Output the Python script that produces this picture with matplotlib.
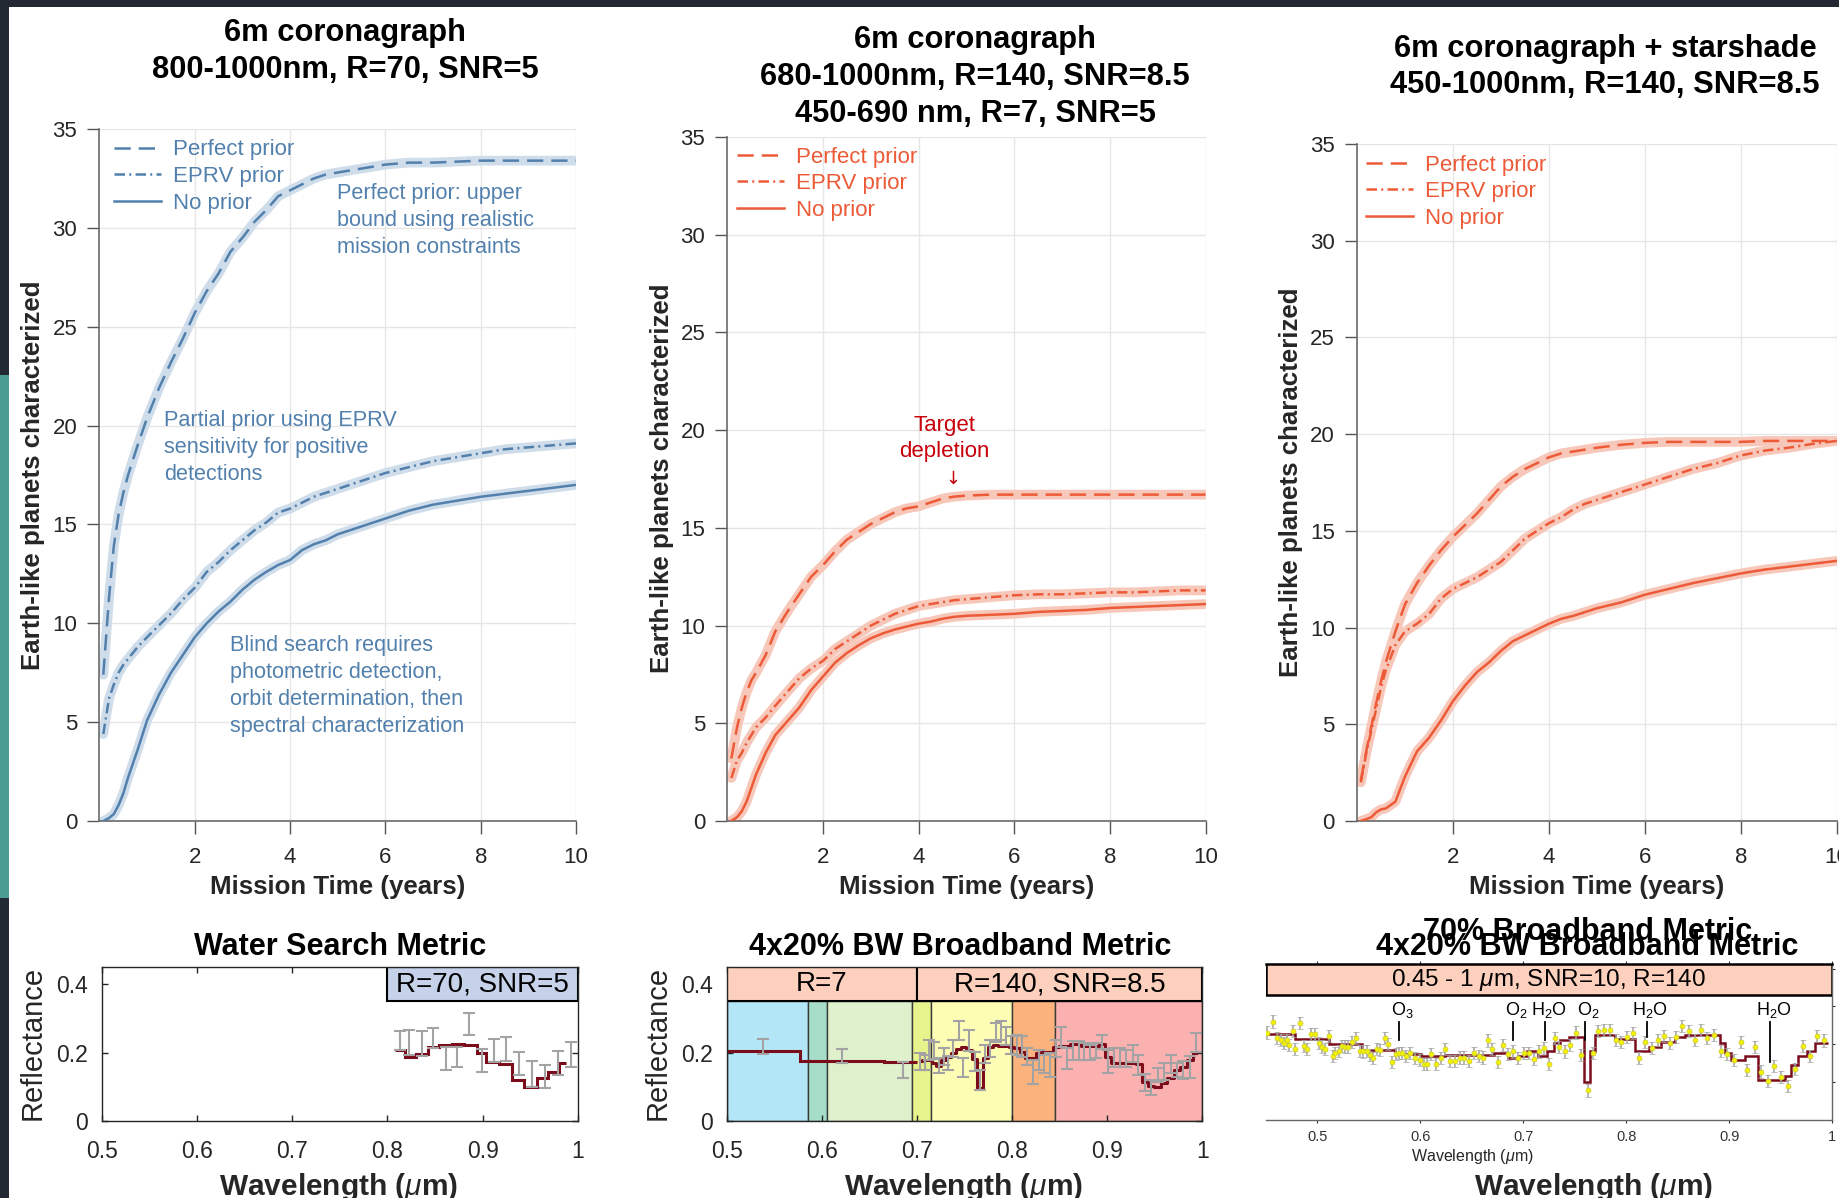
import matplotlib.pyplot as plt
from matplotlib.patches import Rectangle

plt.rcParams['font.family'] = ['Liberation Sans', 'DejaVu Sans']
plt.rcParams['mathtext.fontset'] = 'custom'
plt.rcParams['mathtext.rm'] = 'Liberation Sans'
plt.rcParams['mathtext.it'] = 'Liberation Sans:italic'
plt.rcParams['mathtext.bf'] = 'Liberation Sans:bold'

# ---------------- yield curves (planets characterized vs mission time) ----------------
years = [0.08, 0.2, 0.3, 0.4, 0.5, 0.6, 0.8, 1.0, 1.25, 1.5, 1.75, 2.0, 2.25, 2.5, 2.75,
         3.0, 3.25, 3.5, 3.75, 4.0, 4.25, 4.5, 4.75, 5.0, 5.5, 6.0, 6.5, 7.0, 7.5, 8.0,
         8.5, 9.0, 9.5, 10.0]

# 6m coronagraph, 800-1000nm, R=70
coro_perfect = [7.4, 11.3, 13.9, 15.5, 16.6, 17.5, 19.0, 20.4, 21.9, 23.2, 24.4, 25.7, 26.8, 27.7,
                28.8, 29.5, 30.3, 30.9, 31.6, 31.9, 32.2, 32.5, 32.7, 32.8, 33.0, 33.2, 33.3, 33.3,
                33.35, 33.4, 33.4, 33.4, 33.4, 33.4]
coro_eprv = [4.4, 6.2, 6.9, 7.5, 7.9, 8.2, 8.8, 9.3, 9.9, 10.5, 11.2, 11.8, 12.6, 13.1, 13.7,
             14.2, 14.7, 15.1, 15.6, 15.8, 16.1, 16.4, 16.6, 16.8, 17.2, 17.6, 17.9, 18.2, 18.4,
             18.6, 18.8, 18.9, 19.0, 19.1]
coro_none = [0.0, 0.15, 0.35, 0.8, 1.4, 2.2, 3.6, 5.1, 6.4, 7.5, 8.4, 9.3, 10.0, 10.6, 11.1,
             11.7, 12.2, 12.6, 12.95, 13.2, 13.7, 14.0, 14.2, 14.5, 14.9, 15.3, 15.7, 16.0, 16.2,
             16.4, 16.55, 16.7, 16.85, 17.0]

# 6m coronagraph, 680-1000nm R=140 + 450-690nm R=7
wide_perfect = [3.2, 4.8, 5.8, 6.6, 7.2, 7.6, 8.5, 9.7, 10.7, 11.6, 12.5, 13.1, 13.8, 14.4, 14.8,
                15.2, 15.5, 15.8, 16.0, 16.1, 16.3, 16.5, 16.6, 16.65, 16.7, 16.7, 16.7, 16.7,
                16.7, 16.7, 16.7, 16.7, 16.7, 16.7]
wide_eprv = [2.2, 3.1, 3.5, 4.0, 4.4, 4.8, 5.3, 5.9, 6.6, 7.3, 7.8, 8.2, 8.8, 9.2, 9.6, 10.0,
             10.3, 10.6, 10.8, 11.0, 11.1, 11.2, 11.3, 11.35, 11.45, 11.55, 11.6, 11.6, 11.65,
             11.7, 11.7, 11.75, 11.8, 11.8]
wide_none = [0.0, 0.2, 0.5, 1.0, 1.7, 2.4, 3.5, 4.4, 5.1, 5.8, 6.7, 7.4, 8.1, 8.6, 9.0, 9.35,
             9.6, 9.8, 9.95, 10.1, 10.2, 10.35, 10.45, 10.5, 10.55, 10.6, 10.7, 10.75, 10.8,
             10.9, 10.95, 11.0, 11.05, 11.1]

# 6m coronagraph + starshade, 450-1000nm R=140
ss_perfect = [2.1, 3.7, 4.9, 6.1, 7.2, 8.2, 9.8, 11.2, 12.3, 13.2, 14.0, 14.7, 15.3, 15.9, 16.6,
              17.3, 17.8, 18.2, 18.5, 18.8, 19.0, 19.1, 19.2, 19.3, 19.45, 19.55, 19.6, 19.6,
              19.6, 19.6, 19.65, 19.65, 19.65, 19.65]
ss_eprv = [2.0, 3.6, 4.7, 5.8, 6.9, 7.8, 9.1, 9.8, 10.2, 10.7, 11.5, 12.0, 12.3, 12.6, 13.0,
           13.4, 14.0, 14.6, 15.0, 15.4, 15.7, 16.1, 16.4, 16.6, 17.0, 17.4, 17.8, 18.2, 18.5,
           18.9, 19.15, 19.3, 19.5, 19.65]
ss_none = [0.0, 0.1, 0.2, 0.45, 0.6, 0.65, 1.0, 2.3, 3.6, 4.3, 5.2, 6.2, 7.0, 7.7, 8.2, 8.8,
           9.3, 9.6, 9.9, 10.2, 10.45, 10.6, 10.8, 11.0, 11.3, 11.7, 12.0, 12.3, 12.55, 12.8,
           13.0, 13.15, 13.3, 13.45]

prior_labels = ['Perfect prior', 'EPRV prior', 'No prior']

# ---------------- spectra ----------------
# water search metric, R=70 SNR=5
water_wl = [0.813, 0.823, 0.836, 0.848, 0.862, 0.873, 0.886, 0.899, 0.912, 0.925, 0.938,
            0.952, 0.965, 0.979, 0.993]
water_val = [0.236, 0.230, 0.226, 0.242, 0.183, 0.186, 0.283, 0.176, 0.206, 0.211, 0.169,
             0.137, 0.130, 0.170, 0.195]
water_err = [0.028, 0.036, 0.037, 0.029, 0.034, 0.029, 0.032, 0.034, 0.033, 0.035, 0.034,
             0.037, 0.034, 0.035, 0.037]
water_edges = [0.808, 0.819, 0.830, 0.843, 0.854, 0.868, 0.880, 0.894, 0.904, 0.917, 0.931,
               0.943, 0.957, 0.969, 0.980, 0.988]
water_model = [0.208, 0.186, 0.196, 0.215, 0.222, 0.225, 0.222, 0.198, 0.171, 0.166, 0.120,
               0.100, 0.125, 0.144, 0.169]

# 4x20% broadband metric: R=7 photometry below 0.7um, R=140 spectrum above
r7_wl = [0.5385, 0.621, 0.685]
r7_val = [0.218, 0.190, 0.148]
r7_err = [0.021, 0.021, 0.023]
r7_edges = [0.5, 0.577, 0.665, 0.70]
r7_model = [0.205, 0.174, 0.171]

r140_wl = [0.703, 0.708, 0.713, 0.718, 0.723, 0.728, 0.733, 0.738, 0.744, 0.749, 0.755, 0.761,
           0.766, 0.772, 0.777, 0.783, 0.788, 0.794, 0.799, 0.805, 0.811, 0.816, 0.822, 0.828,
           0.834, 0.840, 0.846, 0.852, 0.858, 0.864, 0.870, 0.876, 0.882, 0.888, 0.895, 0.901,
           0.907, 0.914, 0.920, 0.927, 0.933, 0.940, 0.946, 0.953, 0.960, 0.967, 0.973, 0.980,
           0.987, 0.994]
r140_val = [0.174, 0.171, 0.208, 0.206, 0.161, 0.188, 0.169, 0.212, 0.264, 0.157, 0.236, 0.174,
            0.120, 0.196, 0.213, 0.258, 0.264, 0.249, 0.222, 0.222, 0.217, 0.188, 0.143, 0.178,
            0.167, 0.164, 0.212, 0.245, 0.183, 0.206, 0.206, 0.203, 0.200, 0.206, 0.230, 0.174,
            0.186, 0.186, 0.183, 0.198, 0.164, 0.113, 0.099, 0.135, 0.144, 0.167, 0.149, 0.149,
            0.157, 0.229]
r140_err = [0.024, 0.022, 0.029, 0.026, 0.022, 0.024, 0.020, 0.024, 0.027, 0.027, 0.030, 0.028,
            0.030, 0.027, 0.025, 0.027, 0.027, 0.027, 0.025, 0.030, 0.030, 0.025, 0.035, 0.030,
            0.027, 0.034, 0.025, 0.030, 0.030, 0.027, 0.027, 0.025, 0.022, 0.022, 0.020, 0.034,
            0.027, 0.027, 0.025, 0.025, 0.030, 0.025, 0.022, 0.020, 0.025, 0.027, 0.020, 0.025,
            0.032, 0.027]
r140_model = [0.176, 0.178, 0.178, 0.170, 0.162, 0.178, 0.188, 0.200, 0.210, 0.215, 0.208, 0.180,
              0.096, 0.185, 0.215, 0.222, 0.219, 0.219, 0.215, 0.212, 0.203, 0.183, 0.183, 0.198,
              0.203, 0.203, 0.215, 0.219, 0.219, 0.225, 0.225, 0.219, 0.219, 0.219, 0.225, 0.188,
              0.169, 0.169, 0.169, 0.169, 0.167, 0.115, 0.103, 0.100, 0.112, 0.125, 0.149, 0.159,
              0.178, 0.198]

filter_edges = [0.5, 0.585, 0.605, 0.695, 0.715, 0.800, 0.845, 1.0]
filter_colors = ['#b3e6f7', '#a6dec8', '#dff0cc', '#e6f48c', '#fdfdb4', '#fbb27c', '#fcb1b1']
mode_edges = [0.5, 0.7, 1.0]
mode_labels = ['R=7', 'R=140, SNR=8.5']

# 70% broadband metric, 0.45-1um, SNR=10, R=140
full_wl = [0.4512, 0.4566, 0.4608, 0.4641, 0.4673, 0.4705, 0.4721, 0.4760, 0.4786, 0.4834,
           0.4866, 0.4898, 0.4940, 0.4973, 0.5011, 0.5043, 0.5076, 0.5114, 0.5150, 0.5172,
           0.5205, 0.5237, 0.5269, 0.5301, 0.5340, 0.5376, 0.5414, 0.5446, 0.5479, 0.5511,
           0.5537, 0.5575, 0.5608, 0.5656, 0.5688, 0.5720, 0.5759, 0.5791, 0.5817, 0.5856,
           0.5898, 0.5946, 0.5995, 0.6033, 0.6069, 0.6107, 0.6156, 0.6198, 0.6236, 0.6285,
           0.6333, 0.6381, 0.6423, 0.6472, 0.6517, 0.6565, 0.6607, 0.6655, 0.6697, 0.6752,
           0.6800, 0.6849, 0.6897, 0.6945, 0.7010, 0.7058, 0.7100, 0.7155, 0.7203, 0.7252,
           0.7307, 0.7352, 0.7410, 0.7458, 0.7513, 0.7564, 0.7629, 0.7677, 0.7726, 0.7787,
           0.7838, 0.7900, 0.7951, 0.8006, 0.8071, 0.8125, 0.8184, 0.8248, 0.8306, 0.8367,
           0.8425, 0.8483, 0.8545, 0.8609, 0.8667, 0.8725, 0.8790, 0.8854, 0.8918, 0.8983,
           0.9047, 0.9112, 0.9173, 0.9247, 0.9312, 0.9376, 0.9441, 0.9505, 0.9576, 0.9641,
           0.9715, 0.9789, 0.9853, 0.9924]
full_val = [0.231, 0.260, 0.216, 0.212, 0.203, 0.212, 0.198, 0.236, 0.187, 0.257,
            0.196, 0.187, 0.227, 0.227, 0.203, 0.194, 0.187, 0.222, 0.169, 0.176,
            0.183, 0.196, 0.194, 0.194, 0.205, 0.216, 0.183, 0.181, 0.183, 0.172,
            0.163, 0.187, 0.185, 0.216, 0.201, 0.154, 0.175, 0.176, 0.176, 0.169,
            0.176, 0.163, 0.159, 0.148, 0.148, 0.174, 0.148, 0.163, 0.187, 0.156,
            0.156, 0.165, 0.165, 0.156, 0.176, 0.169, 0.165, 0.210, 0.187, 0.154,
            0.198, 0.174, 0.181, 0.163, 0.178, 0.176, 0.160, 0.181, 0.190, 0.148,
            0.216, 0.192, 0.181, 0.198, 0.231, 0.172, 0.078, 0.178, 0.234, 0.238,
            0.238, 0.212, 0.205, 0.219, 0.229, 0.163, 0.205, 0.190, 0.212, 0.221,
            0.203, 0.219, 0.249, 0.234, 0.212, 0.238, 0.216, 0.225, 0.183, 0.174,
            0.159, 0.207, 0.132, 0.192, 0.128, 0.104, 0.143, 0.113, 0.090, 0.134,
            0.196, 0.169, 0.221, 0.210]
full_sigma = 0.016
full_edges = [0.450, 0.478, 0.511, 0.543, 0.575, 0.601, 0.624, 0.672, 0.685, 0.695, 0.704,
              0.714, 0.723, 0.730, 0.736, 0.744, 0.759, 0.765, 0.770, 0.789, 0.809, 0.822,
              0.834, 0.847, 0.857, 0.891, 0.896, 0.902, 0.915, 0.928, 0.954, 0.960, 0.967,
              0.976, 0.983, 0.996]
full_model = [0.227, 0.214, 0.200, 0.186, 0.174, 0.169, 0.172, 0.178, 0.163, 0.170, 0.181,
              0.168, 0.181, 0.203, 0.212, 0.220, 0.101, 0.181, 0.225, 0.213, 0.181, 0.194,
              0.207, 0.220, 0.225, 0.203, 0.176, 0.159, 0.168, 0.106, 0.116, 0.146, 0.168,
              0.181, 0.203]

band_names = ['O$_3$', 'O$_2$', 'H$_2$O', 'O$_2$', 'H$_2$O', 'H$_2$O']
band_wl = [0.579, 0.690, 0.721, 0.760, 0.820, 0.940]
band_low = [0.212, 0.212, 0.212, 0.212, 0.220, 0.154]
band_top = 0.26

# ---------------- styling ----------------
BLUE = '#5280ad'
BLUE_HALO = '#cfdcea'
RED = '#ec5a37'
RED_HALO = '#f7c7b9'
DEPLETION = '#c8000a'
MAROON = '#7b0c1c'
ERR_GRAY = '#a3a3a3'
HEADER = '#fdd0be'
DARK = '#232933'
TEAL = '#4a9d93'

W, H = 1840, 1198
fig = plt.figure(figsize=(W / 100, H / 100), dpi=100, facecolor='white')


def rect(left, top, right, bottom):
    # pixel box measured from the top-left corner -> figure fraction
    return [left / W, 1 - bottom / H, (right - left) / W, (bottom - top) / H]


def put(x, y, s, **kw):
    kw.setdefault('ha', 'center')
    kw.setdefault('va', 'center')
    fig.text(x / W, 1 - y / H, s, **kw)


# slide frame around the figure
for x0, y0, w, h, c in [(0, 0, W, 7, DARK), (0, 0, 9, 375, DARK),
                        (0, 375, 9, 523, TEAL), (0, 898, 9, 300, DARK)]:
    fig.add_artist(Rectangle((x0 / W, 1 - (y0 + h) / H), w / W, h / H,
                             transform=fig.transFigure, color=c, zorder=10, lw=0))


def yield_axes(box, perfect, eprv, none, color, halo, legend_at):
    L, T, R, B = box
    ax = fig.add_axes(rect(*box))
    ax.set_xlim(0, 10)
    ax.set_ylim(0, 35)
    ax.set_xticks([2, 4, 6, 8, 10])
    ax.set_yticks(range(0, 36, 5))
    ax.grid(True, color='#e6e6e6', lw=1.0)
    ax.set_axisbelow(True)
    for s in ('top', 'right'):
        ax.spines[s].set_visible(False)
    for s in ('left', 'bottom'):
        ax.spines[s].set_color('#6a6a6a')
        ax.spines[s].set_linewidth(1.2)
    ax.tick_params(direction='out', length=9, width=1, colors='#555555',
                   labelcolor='#262626', labelsize=16)
    ax.tick_params(axis='x', pad=10)
    ax.tick_params(axis='y', pad=7)

    handles = []
    for y, dash in ((perfect, (6.5, 3.2)), (eprv, (4.2, 1.7, 0.8, 1.7)), (none, None)):
        ax.plot(years, y, color=halo, lw=7, solid_capstyle='round',
                solid_joinstyle='round', zorder=2)
        line, = ax.plot(years, y, color=color, lw=1.8, zorder=3)
        if dash:
            line.set_dashes(dash)
        handles.append(line)

    lx = (legend_at[0] - L) / (R - L)
    ly = (B - legend_at[1]) / (B - T)
    ax.legend(handles, prior_labels, loc='upper left', bbox_to_anchor=(lx, ly),
              frameon=False, fontsize=16, handlelength=2.1, handletextpad=0.55,
              labelspacing=0.25, borderpad=0, borderaxespad=0, labelcolor=color)
    return ax


ax1 = yield_axes((99.5, 129, 576, 821), coro_perfect, coro_eprv, coro_none,
                 BLUE, BLUE_HALO, (114, 139.5))
ax2 = yield_axes((727.5, 137, 1205.5, 821), wide_perfect, wide_eprv, wide_none,
                 RED, RED_HALO, (737, 146.5))
ax3 = yield_axes((1357, 144, 1837, 821), ss_perfect, ss_eprv, ss_none,
                 RED, RED_HALO, (1366, 154.5))

note = dict(color=BLUE, fontsize=15.6, ha='left', va='top', linespacing=1.37)
ax1.text(4.98, 32.26, 'Perfect prior: upper\nbound using realistic\nmission constraints', **note)
ax1.text(1.35, 20.8, 'Partial prior using EPRV\nsensitivity for positive\ndetections', **note)
ax1.text(2.74, 9.4, 'Blind search requires\nphotometric detection,\norbit determination, then\n'
         'spectral characterization', **note)

ax2.text(4.53, 20.8, 'Target\ndepletion', color=DEPLETION, fontsize=16, ha='center',
         va='top', linespacing=1.35)
ax2.text(4.72, 17.5, '\u2193', color=DEPLETION, fontsize=13, ha='center', va='center',
         family=['DejaVu Sans'])

title_kw = dict(fontsize=22.2, fontweight='bold', color='black')
put(345, 33, '6m coronagraph', **title_kw)
put(345, 70, '800-1000nm, R=70, SNR=5', **title_kw)
put(975, 40, '6m coronagraph', **title_kw)
put(975, 77.5, '680-1000nm, R=140, SNR=8.5', **title_kw)
put(975, 114, '450-690 nm, R=7, SNR=5', **title_kw)
put(1605, 49, '6m coronagraph + starshade', **title_kw)
put(1605, 85, '450-1000nm, R=140, SNR=8.5', **title_kw)

label_kw = dict(fontsize=18.6, fontweight='bold', color='#262626')
for x in (338, 966.5, 1597):
    put(x, 887, 'Mission Time (years)', **label_kw)
for x, y in ((32.6, 475), (662, 478), (1291.5, 482)):
    put(x, y, 'Earth-like planets characterized', rotation=90, **label_kw)


def spectrum_axes(box):
    ax = fig.add_axes(rect(*box))
    ax.set_xlim(0.5, 1.0)
    ax.set_ylim(0, 0.45)
    ax.set_xticks([0.5, 0.6, 0.7, 0.8, 0.9, 1.0])
    ax.set_xticklabels(['0.5', '0.6', '0.7', '0.8', '0.9', '1'])
    ax.set_yticks([0, 0.2, 0.4])
    ax.set_yticklabels(['0', '0.2', '0.4'])
    ax.tick_params(direction='in', length=4, width=1, top=True, right=True,
                   labelsize=16.5, colors='#262626', pad=10)
    ax.tick_params(axis='x', pad=14)
    for s in ax.spines.values():
        s.set_color('#262626')
        s.set_linewidth(1.0)
        s.set_zorder(6)
    return ax


HEAD_LO = 0.352
err_kw = dict(fmt='none', ecolor=ERR_GRAY, elinewidth=1.5, capsize=4, capthick=1.5, zorder=4)

# water search metric
ax4 = spectrum_axes((101.6, 967, 577.9, 1121))
ax4.axvspan(water_edges[0] - 0.008, 1.0, ymin=HEAD_LO / 0.45, ymax=1, facecolor='#c6d2ea',
            edgecolor='black', lw=1.5, zorder=5)
ax4.text(0.9, 0.399, 'R=70, SNR=5', fontsize=20, ha='center', va='center', zorder=6)
ax4.stairs(water_model, water_edges, color=MAROON, lw=2.2, baseline=None, zorder=3)
ax4.errorbar(water_wl, water_val, yerr=water_err, **err_kw)

# 4x20% BW broadband metric
ax5 = spectrum_axes((726.7, 967, 1202.2, 1121))
for lo, hi, c in zip(filter_edges[:-1], filter_edges[1:], filter_colors):
    ax5.axvspan(lo, hi, ymin=0, ymax=HEAD_LO / 0.45, facecolor=c, edgecolor='#3a3a3a',
                lw=1.0, zorder=1)
for lo, hi, s in zip(mode_edges[:-1], mode_edges[1:], mode_labels):
    ax5.axvspan(lo, hi, ymin=HEAD_LO / 0.45, ymax=1, facecolor=HEADER, edgecolor='black',
                lw=1.5, zorder=5)
    ax5.text((lo + hi) / 2, 0.399, s, fontsize=20, ha='center', va='center', zorder=6)
ax5.stairs(r7_model, r7_edges, color=MAROON, lw=2.2, baseline=None, zorder=3)
ax5.step(r140_wl, r140_model, where='mid', color=MAROON, lw=2.2, zorder=3)
ax5.errorbar(r7_wl, r7_val, yerr=r7_err, **err_kw)
ax5.errorbar(r140_wl, r140_val, yerr=r140_err, **err_kw)

for x, s in ((339.7, 'Water Search Metric'), (960.5, '4x20% BW Broadband Metric'),
             (1587.6, '4x20% BW Broadband Metric')):
    put(x, 946.7, s, fontsize=22, fontweight='bold')
put(1587.5, 931.7, '70% Broadband Metric', fontsize=22, fontweight='bold')
for x in (32.6, 657.5):
    put(x, 1043, 'Reflectance', fontsize=21, rotation=90, color='#262626')
for x in (339, 964, 1593.5):
    put(x, 1195, r'Wavelength ($\mu$m)', fontsize=21.5, fontweight='bold', va='baseline',
        color='#262626')

# 70% broadband spectrum (inset)
ax6 = fig.add_axes(rect(1266, 964, 1832, 1120))
ax6.set_xlim(0.45, 1.0)
ax6.set_ylim(0, 0.412)
ax6.set_xticks([0.5, 0.6, 0.7, 0.8, 0.9, 1.0])
ax6.set_xticklabels(['0.5', '0.6', '0.7', '0.8', '0.9', '1'])
ax6.set_yticks([0.1, 0.2, 0.3, 0.4])
ax6.tick_params(direction='out', length=2.5, width=0.8, top=True, right=True, left=False,
                labelleft=False, labelsize=10.5, colors='#333333', pad=4.5)
ax6.spines['left'].set_visible(False)
for s in ('right', 'bottom'):
    ax6.spines[s].set_color('#666666')
    ax6.spines[s].set_linewidth(1.0)
ax6.spines['top'].set_color('black')
ax6.spines['top'].set_linewidth(1.8)
ax6.axvspan(0.45, 1.0, ymin=0.331 / 0.412, ymax=1, facecolor=HEADER, edgecolor='black',
            lw=1.8, zorder=5)
ax6.text(0.725, 0.371, r'0.45 - 1 $\mu$m, SNR=10, R=140', fontsize=17.5, ha='center',
         va='center', zorder=6)
ax6.stairs(full_model, full_edges, color=MAROON, lw=1.8, baseline=None, zorder=3)
ax6.errorbar(full_wl, full_val, yerr=full_sigma, fmt='o', ms=3.6, mfc='#f2f200',
             mec='#c9c940', mew=0.5, ecolor=ERR_GRAY, elinewidth=1.1, capsize=2.4,
             capthick=1.1, zorder=4)
for s, wl, lo in zip(band_names, band_wl, band_low):
    ax6.plot([wl, wl], [lo, band_top], color='black', lw=1.3, zorder=6)
    ax6.text(wl + 0.0035, band_top + 0.003, s, fontsize=13, ha='center', va='bottom', zorder=6)
put(1472, 1157, r'Wavelength ($\mu$m)', fontsize=11.5, color='#262626')

fig.savefig('out.png', dpi=100, facecolor='white')
